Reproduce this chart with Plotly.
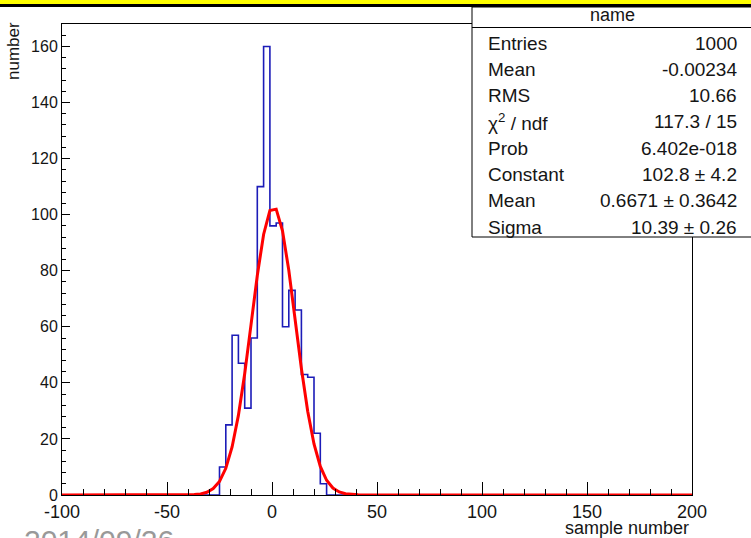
import numpy as np
import plotly.graph_objects as go

# ---- data ----
bin_width = 3.0
x_min, x_max = -100.0, 200.0
nz_low_edges = [-25, -22, -19, -16, -13, -10, -7, -4, -1, 2, 5, 8, 11, 14, 17, 20, 23]
nz_counts    = [10, 25, 57, 47, 31, 56, 110, 160, 96, 97, 60, 73, 66, 43, 42, 22, 4]

fit_constant = 102.8
fit_mean = 0.6671
fit_sigma = 10.39

stat_labels = ["Entries", "Mean", "RMS", "χ<sup>2</sup> / ndf", "Prob", "Constant", "Mean", "Sigma"]
stat_values = ["1000", "-0.00234", "10.66", "117.3 / 15", "6.402e-018",
               "102.8 ± 4.2", "0.6671 ± 0.3642", "10.39 ± 0.26"]

x_tickvals = [-100, -50, 0, 50, 100, 150, 200]
x_ticktext = ["-100", "-50", "0", "50", "100", "150", "200"]
y_tickvals = [0, 20, 40, 60, 80, 100, 120, 140, 160]
y_ticktext = ["0", "20", "40", "60", "80", "100", "120", "140", "160"]

# ---- build full histogram ----
nbins = int(round((x_max - x_min) / bin_width))
edges = x_min + bin_width * np.arange(nbins + 1)
counts = np.zeros(nbins)
for e, c in zip(nz_low_edges, nz_counts):
    counts[int(round((e - x_min) / bin_width))] = c
hx = list(edges[:-1]) + [edges[-1]]
hy = list(counts) + [counts[-1]]

fx = np.linspace(x_min, x_max, 101)
fy = fit_constant * np.exp(-0.5 * ((fx - fit_mean) / fit_sigma) ** 2)

W, H = 751, 538
L, R, T, B = 62, 692, 24, 495

def px(x):
    return (x - L) / (R - L)

def py(y):
    return (B - y) / (B - T)

fig = go.Figure()
fig.add_trace(go.Scatter(x=hx, y=hy, mode="lines", line=dict(color="#1c1cb8", width=1.6, shape="hv"),
                         hoverinfo="skip", showlegend=False))
fig.add_trace(go.Scatter(x=fx, y=fy, mode="lines", line=dict(color="#ff0000", width=3),
                         hoverinfo="skip", showlegend=False))

font = "Liberation Sans, Arial, sans-serif"
tc = "#151515"
shapes = [
    dict(type="rect", xref="paper", yref="paper", x0=px(-5), x1=px(W + 5), y0=py(4), y1=py(-5),
         fillcolor="#ffff00", line=dict(width=0), layer="above"),
    dict(type="line", xref="paper", yref="paper", x0=px(-5), x1=px(W + 5), y0=py(5.5), y1=py(5.5),
         line=dict(color="black", width=3), layer="above"),
    dict(type="rect", xref="paper", yref="paper", x0=px(472), x1=px(W + 10), y0=py(237), y1=py(7),
         fillcolor="white", line=dict(color="black", width=1), layer="above"),
    dict(type="line", xref="paper", yref="paper", x0=px(472), x1=px(W + 10), y0=py(27.5), y1=py(27.5),
         line=dict(color="black", width=1), layer="above"),
]

annotations = [
    dict(text="name", xref="paper", yref="paper", x=px(612), y=py(15), xanchor="center", yanchor="middle",
         showarrow=False, font=dict(family=font, size=18, color=tc)),
    dict(text="sample number", xref="paper", yref="paper", x=px(691), y=py(528), xanchor="right",
         yanchor="middle", showarrow=False, font=dict(family=font, size=18, color=tc)),
    dict(text="number", xref="paper", yref="paper", x=px(13), y=py(20), xanchor="center", yanchor="top",
         textangle=-90, showarrow=False, font=dict(family=font, size=17, color=tc)),
    dict(text="2014/09/26", xref="paper", yref="paper", x=px(22), y=py(522), xanchor="left", yanchor="top",
         showarrow=False, font=dict(family=font, size=30, color="#999")),
]
for i, (lab, val) in enumerate(zip(stat_labels, stat_values)):
    yy = 43 + i * 26.3
    annotations.append(dict(text=lab, xref="paper", yref="paper", x=px(486), y=py(yy), xanchor="left",
                            yanchor="middle", showarrow=False, font=dict(family=font, size=19, color=tc)))
    annotations.append(dict(text=val, xref="paper", yref="paper", x=px(739), y=py(yy), xanchor="right",
                            yanchor="middle", showarrow=False, font=dict(family=font, size=19, color=tc)))

fig.update_layout(
    width=W, height=H,
    margin=dict(l=L, r=W - R, t=T, b=H - B),
    paper_bgcolor="white", plot_bgcolor="white",
    shapes=shapes, annotations=annotations,
    xaxis=dict(range=[x_min, x_max], tickvals=x_tickvals, ticktext=x_ticktext, ticks="inside",
               ticklen=13, tickwidth=1,
               tickcolor="black", showline=True, linecolor="black", linewidth=1, mirror=True,
               showgrid=False, zeroline=False, tickfont=dict(family=font, size=18, color=tc),
               minor=dict(ticks="inside", ticklen=6, dtick=10, tickcolor="black", showgrid=False)),
    yaxis=dict(range=[0, 168], tickvals=y_tickvals, ticktext=y_ticktext, ticks="inside", ticklen=8,
               tickwidth=1,
               tickcolor="black", showline=True, linecolor="black", linewidth=1, mirror=True,
               showgrid=False, zeroline=False, tickfont=dict(family=font, size=16, color=tc),
               minor=dict(ticks="inside", ticklen=4, dtick=4, tickcolor="black", showgrid=False)),
)

fig.write_html("out.html", config={"displayModeBar": False},
               post_script="document.body.style.margin='0';document.body.style.overflow='hidden';")
